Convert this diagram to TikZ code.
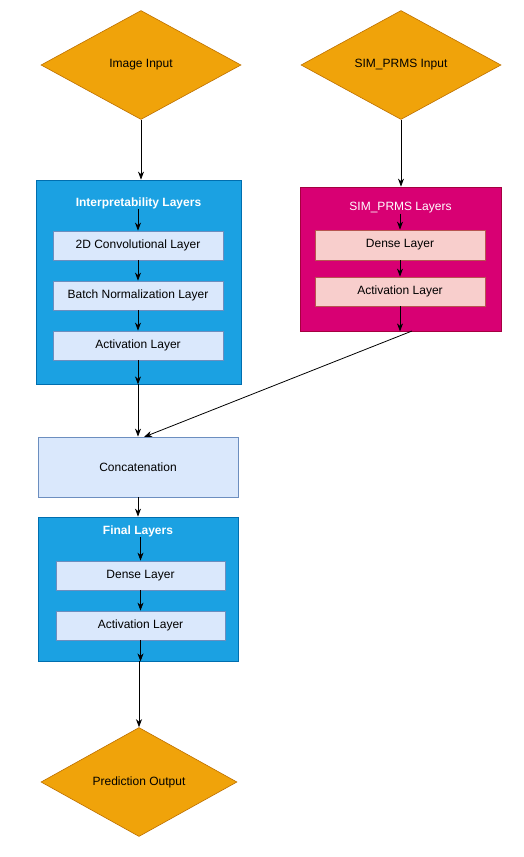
\documentclass[tikz,border=0pt]{standalone}
\usepackage{fontspec}
\setmainfont{Liberation Sans}
\usetikzlibrary{shapes.geometric,arrows.meta}
\definecolor{orfill}{HTML}{F0A30A}
\definecolor{ordraw}{HTML}{BD7000}
\definecolor{bfill}{HTML}{1BA1E2}
\definecolor{bdraw}{HTML}{006EAF}
\definecolor{lbfill}{HTML}{DAE8FC}
\definecolor{lbdraw}{HTML}{6C8EBF}
\definecolor{mfill}{HTML}{D80073}
\definecolor{mdraw}{HTML}{A50040}
\definecolor{pfill}{HTML}{F8CECC}
\definecolor{pdraw}{HTML}{B85450}
\tikzset{
  dia/.style={diamond, fill=orfill, draw=ordraw, line width=0.6pt, minimum width=200pt, minimum height=109pt, inner sep=0pt, aspect=1.83, font=\fontsize{12}{14}\selectfont},
  group/.style={rectangle, line width=0.8pt, inner sep=0pt},
  inbox/.style={rectangle, line width=0.8pt, inner sep=0pt, font=\fontsize{12}{14}\selectfont},
  ttl/.style={text=white, font=\bfseries\fontsize{12}{14}\selectfont, inner sep=0pt},
  arr/.style={-{Stealth[length=8pt,width=6pt,inset=2.5pt]}, line width=0.8pt, black},
}
\begin{document}
\begin{tikzpicture}[x=1pt,y=-1pt]
\useasboundingbox (0,0) rectangle (524,857);
% input diamonds
\node[dia] (img) at (141,65) {Image Input};
\node[dia] (sim) at (401,65) {SIM\_PRMS Input};
% Interpretability group
\node[group, fill=bfill, draw=bdraw, minimum width=205pt, minimum height=204pt] (ig) at (138.5,282) {};
\node[ttl] (igt) at (138.5,203) {Interpretability Layers};
\node[inbox, fill=lbfill, draw=lbdraw, minimum width=170pt, minimum height=29pt] (conv) at (138,245.5) {2D Convolutional Layer};
\node[inbox, fill=lbfill, draw=lbdraw, minimum width=170pt, minimum height=29pt] (bn) at (138,295.5) {Batch Normalization Layer};
\node[inbox, fill=lbfill, draw=lbdraw, minimum width=170pt, minimum height=29pt] (act1) at (138,345.5) {Activation Layer};
% SIM_PRMS group
\node[group, fill=mfill, draw=mdraw, minimum width=201pt, minimum height=144pt] (sg) at (400.5,259) {};
\node[ttl, font=\fontsize{12}{14}\selectfont] (sgt) at (400.5,208) {SIM\_PRMS Layers};
\node[inbox, fill=pfill, draw=pdraw, minimum width=170pt, minimum height=30pt] (dense1) at (400,245) {Dense Layer};
\node[inbox, fill=pfill, draw=pdraw, minimum width=170pt, minimum height=29pt] (act2) at (400,291.5) {Activation Layer};
% Concatenation
\node[inbox, fill=lbfill, draw=lbdraw, minimum width=200pt, minimum height=60pt] (cat) at (138,467) {Concatenation};
% Final group
\node[group, fill=bfill, draw=bdraw, minimum width=200pt, minimum height=144pt] (fg) at (138,589) {};
\node[ttl] (fgt) at (138,531) {Final Layers};
\node[inbox, fill=lbfill, draw=lbdraw, minimum width=169pt, minimum height=29pt] (dense2) at (140.5,575.5) {Dense Layer};
\node[inbox, fill=lbfill, draw=lbdraw, minimum width=169pt, minimum height=29pt] (act3) at (140.5,625.5) {Activation Layer};
% output diamond
\node[dia, minimum width=196pt] (out) at (139,782) {Prediction Output};
% connectors
\coordinate (simexit) at (412,331);
\coordinate (catin) at (144,437);
\draw[arr] (img.south) -- (img.south |- ig.north);
\draw[arr] (sim.south) -- (sim.south |- sg.north);
\draw[arr] (igt.south -| conv.north) -- (conv.north);
\draw[arr] (conv) -- (bn);
\draw[arr] (bn) -- (act1);
\draw[arr] (act1.south) -- (act1.south |- ig.south);
\draw[arr] (sgt.south -| dense1.north) -- (dense1.north);
\draw[arr] (dense1) -- (act2);
\draw[arr] (act2.south) -- (act2.south |- sg.south);
\draw[arr] (ig.south -| cat.north) -- (cat.north);
\draw[arr] (simexit) -- (catin);
\draw[arr] (cat.south) -- (cat.south |- fg.north);
\draw[arr] (fgt.south -| dense2.north) -- (dense2.north);
\draw[arr] (dense2) -- (act3);
\draw[arr] (act3.south) -- (act3.south |- fg.south);
\draw[arr] (fg.south -| out.north) -- (out.north);
\end{tikzpicture}
\end{document}
